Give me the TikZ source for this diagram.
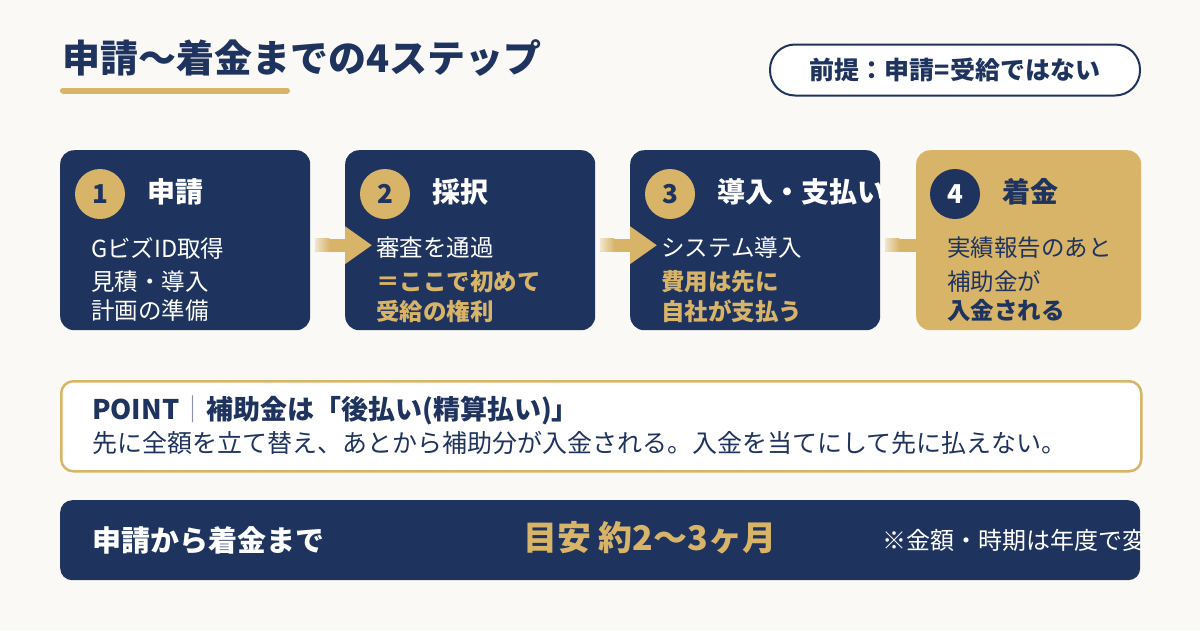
\documentclass[tikz,border=0pt]{standalone}
\usepackage{fontspec}
\setmainfont{Noto Sans CJK JP}
\definecolor{navy}{HTML}{1F335F}
\definecolor{gold}{HTML}{D8B468}
\definecolor{paper}{HTML}{FBF9F5}
\definecolor{gentlegray}{HTML}{8A93A6}
\usetikzlibrary{arrows.meta}
\newcommand{\fsz}[1]{\fontsize{#1pt}{#1pt}\selectfont}
\tikzset{
  stepbox/.style={
    fill=#1, rounded corners=14pt, minimum width=250pt,
    minimum height=180pt, inner sep=0pt, anchor=north west
  },
  stepbox/.default=navy,
  numcirc/.style={
    circle, fill=#1, minimum size=50pt, inner sep=0pt,
    font=\bfseries\fsz{26}
  },
  numcirc/.default=gold,
  steptitle/.style={anchor=west, inner sep=0pt, font=\bfseries\fsz{28}},
  bodytxt/.style={anchor=west, inner sep=0pt, font=\fsz{23.5}},
  bodybold/.style={anchor=west, inner sep=0pt, font=\bfseries\fsz{23.5}},
  flowarr/.style={-{Triangle[length=27pt,width=36pt]}, line width=13pt, draw=gold},
  fadeend/.style={left color=gold!30!paper, right color=gold},
  pill/.style={
    draw=navy, line width=2pt, fill=white, rounded corners=25pt,
    minimum width=370pt, minimum height=51pt, text=navy,
    font=\bfseries\fsz{25}
  },
  wide/.style={
    rounded corners=12pt, minimum width=1080pt, inner sep=0pt,
    anchor=north west
  },
}

\begin{document}
\begin{tikzpicture}[x=1pt, y=-1pt]
    \fill[paper] (0,0) rectangle (1200,630);
    \useasboundingbox (0,0) rectangle (1200,630);

    \node[anchor=west, inner sep=0pt, text=navy, font=\bfseries\fsz{38}] (title) at (62,58)
      {申請〜着金までの4ステップ};
    \draw[gold, line width=6pt, line cap=round] (63,90.5) -- (287,90.5);

    \node[pill] (premise) at (955,70) {前提：申請=受給ではない};

    \node[stepbox=navy] (b1) at (60,150) {};
    \node[stepbox=navy] (b2) at (345,150) {};
    \node[stepbox=navy] (b3) at (630,150) {};
    \node[stepbox=gold, minimum width=225pt] (b4) at (916,150) {};

    \draw[flowarr] ([xshift=5pt,yshift=-5pt]b1.east) -- ([xshift=27pt,yshift=-5pt]b2.west);
    \draw[flowarr] ([xshift=5pt,yshift=-5pt]b2.east) -- ([xshift=27pt,yshift=-5pt]b3.west);
    \draw[flowarr] ([xshift=5pt,yshift=-5pt]b3.east) -- ([xshift=27pt,yshift=-5pt]b4.west);
    \shade[fadeend] ([xshift=5pt,yshift=1.5pt]b1.east) rectangle ++(14,13);
    \shade[fadeend] ([xshift=5pt,yshift=1.5pt]b2.east) rectangle ++(14,13);
    \shade[fadeend] ([xshift=5pt,yshift=1.5pt]b3.east) rectangle ++(14,13);

    \node[numcirc, text=navy] (n1) at (100,194) {1};
    \node[steptitle, text=white] (t1) at (147,192) {申請};
    \node[bodytxt, text=white] (b1a) at (91,248) {GビズID取得};
    \node[bodytxt, text=white] (b1b) at (91,282) {見積・導入};
    \node[bodytxt, text=white] (b1c) at (91,311) {計画の準備};

    \node[numcirc, text=navy] (n2) at (385,194) {2};
    \node[steptitle, text=white] (t2) at (432,192) {採択};
    \node[bodytxt, text=white] (b2a) at (376,248) {審査を通過};
    \node[bodybold, text=gold] (b2b) at (376,282) {＝ここで初めて};
    \node[bodybold, text=gold] (b2c) at (376,311) {受給の権利};

    \node[numcirc, text=navy] (n3) at (670,194) {3};
    \begin{scope}
      \clip[rounded corners=14pt] (b3.north west) rectangle (b3.south east);
      \node[steptitle, text=white] (t3) at (717,192) {導入・支払い};
    \end{scope}
    \node[bodytxt, text=white] (b3a) at (661,248) {システム導入};
    \node[bodybold, text=gold] (b3b) at (661,282) {費用は先に};
    \node[bodybold, text=gold] (b3c) at (661,311) {自社が支払う};

    \node[numcirc=navy, text=white] (n4) at (955,194) {4};
    \node[steptitle, text=navy] (t4) at (1002,192) {着金};
    \node[bodytxt, text=navy] (b4a) at (947,248) {実績報告のあと};
    \node[bodytxt, text=navy] (b4b) at (947,282) {補助金が};
    \node[bodybold, text=navy] (b4c) at (947,311) {入金される};

    \node[wide, draw=gold, line width=2.5pt, fill=white, minimum height=90pt] (point) at (60,380) {};
    \node[bodybold, text=navy, font=\bfseries\fsz{27}] (pointhead) at (92,410)
      {POINT\textcolor{gentlegray}{\mdseries ｜}補助金は「後払い(精算払い)」};
    \node[bodytxt, text=navy, font=\fsz{25}] (pointtext) at (92,443)
      {先に全額を立て替え、あとから補助分が入金される。入金を当てにして先に払えない。};

    \node[wide, fill=navy, minimum height=80pt] (bar) at (60,500) {};
    \node[bodybold, text=white, font=\bfseries\fsz{29}] (barlbl) at (92,540) {申請から着金まで};
    \node[bodybold, text=gold, font=\bfseries\fsz{34}] (barval) at (523,538) {目安 約2〜3ヶ月};
    \begin{scope}
      \clip[rounded corners=12pt] (bar.north west) rectangle (bar.south east);
      \node[bodytxt, text=white, font=\fsz{24}] (barnote) at (882,540) {※金額・時期は年度で変};
    \end{scope}
\end{tikzpicture}
\end{document}
